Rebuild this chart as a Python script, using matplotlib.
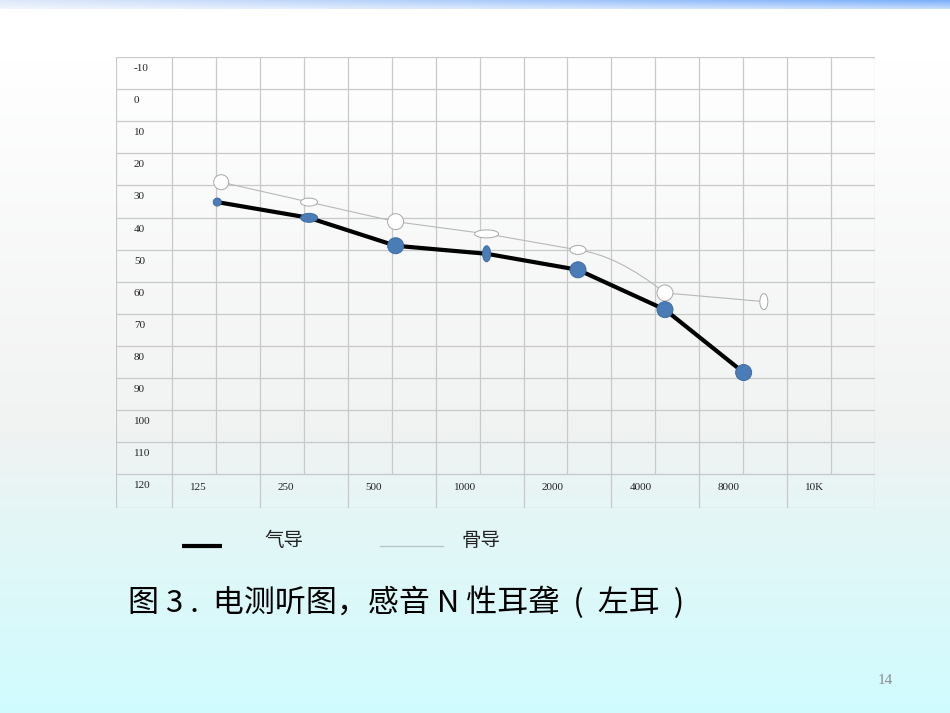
import numpy as np
import matplotlib
matplotlib.use("Agg")
import matplotlib.pyplot as plt
from matplotlib.patches import Ellipse, PathPatch
from matplotlib.path import Path
from matplotlib.lines import Line2D

# ---------------- data ----------------
row_labels = ["-10", "0", "10", "20", "30", "40", "50", "60", "70", "80",
              "90", "100", "110", "120"]
row_values = [-10, 0, 10, 20, 30, 40, 50, 60, 70, 80, 90, 100, 110, 120]
freq_labels = ["125", "250", "500", "1000", "2000", "4000", "8000", "10K"]

# positions on the grid (column units) and hearing levels (dB)
air_pos = [1.03, 3.12, 5.09, 7.16, 9.24, 11.22, 13.01]
air_db = [35.2, 40.1, 48.8, 51.3, 56.3, 68.7, 88.3]
bone_pos = [1.12, 3.12, 5.09, 7.16, 9.24, 11.22, 13.47]
bone_db = [29.0, 35.2, 41.3, 45.1, 50.1, 63.5, 66.2]

legend_labels = ["气导", "骨导"]
title_text = "图 3 .  电测听图，感音 N 性耳聋  (  左耳  )"
page_number = "14"

# marker sizes in pixels (style)
air_marker_px = [(8, 8), (17, 9), (16, 16), (8, 16), (16, 16), (16, 16), (16, 16)]
bone_marker_px = [(15, 15), (17, 8), (16, 16), (24, 8), (16, 9), (16, 16), (8, 16)]
curved_bone_segment = 4   # segment 2000 -> 4000 drawn as a curve (style)

# ---------------- figure ----------------
W, H = 950, 713
fig = plt.figure(figsize=(W / 100, H / 100), dpi=100)

# background
bg = fig.add_axes([0, 0, 1, 1])
bg.set_xlim(0, W)
bg.set_ylim(H, 0)
bg.axis("off")
ys = np.arange(H)
stops_y = [0, 60, 430, 520, 713]
stops_c = np.array([[255, 255, 255], [255, 255, 255], [241, 242, 242],
                    [228, 246, 246], [208, 252, 255]]) / 255.0
grad = np.stack([np.interp(ys, stops_y, stops_c[:, k]) for k in range(3)], axis=-1)
bg.imshow(grad[:, None, :], extent=[0, W, H, 0], aspect="auto", zorder=0)

# top blue band
bx = np.linspace(0, 1, 200)
band_rows = []
for r in range(9):
    t = r / 8.0
    left = np.array([222, 233, 250]) / 255
    right = np.array([125, 176, 250]) / 255
    row = left[None, :] * (1 - bx[:, None]) + right[None, :] * bx[:, None]
    row = row * (1 - 0.55 * t) + 0.55 * t
    band_rows.append(row)
band = np.array(band_rows)
bg.imshow(band, extent=[0, W, 9, 0], aspect="auto", zorder=1)

# ---------------- table / chart axes ----------------
L, R, T, B = 116, 875, 57, 508
col_w = (R - 172) / 16.0           # px per column
px_per_db = 32.1 / 10.0
x_left = -(172 - L) / col_w
y_top = -10
y_bot = y_top + (B - T) / px_per_db

ax = fig.add_axes([L / W, 1 - B / H, (R - L) / W, (B - T) / H])
ax.patch.set_alpha(0)
ax.set_xlim(x_left, 16)
ax.set_ylim(y_bot, y_top)
ax.axis("off")

gc = "#c9c9c9"
glw = 0.9
ax.hlines([y_top] + row_values[1:] + [y_bot], x_left, 16, colors=gc, lw=glw, zorder=1)
ax.vlines([x_left, 16], y_top, y_bot, colors=gc, lw=glw, zorder=1)
ax.vlines(np.arange(0, 16), y_top, 120, colors=gc, lw=glw, zorder=1)
ax.vlines(np.arange(0, 16, 2), 120, y_bot, colors=gc, lw=glw, zorder=1)

serif = ["Liberation Serif", "DejaVu Serif"]
pad = 18 / col_w
for lab, v in zip(row_labels, row_values):
    ax.text(x_left + pad, v + 3.6, lab, ha="left", va="center",
            fontsize=8, family=serif, color="#222222")
for i, lab in enumerate(freq_labels):
    ax.text(2 * i + pad, 124.1, lab, ha="left", va="center",
            fontsize=8, family=serif, color="#222222")

# bone conduction line (one segment gently curved) + markers
verts, codes = [(bone_pos[0], bone_db[0])], [Path.MOVETO]
for i in range(1, len(bone_pos)):
    x0, y0 = bone_pos[i - 1], bone_db[i - 1]
    x1, y1 = bone_pos[i], bone_db[i]
    if i - 1 == curved_bone_segment:
        cx = x0 + 0.45 * (x1 - x0)
        cy = y0 + 0.12 * (y1 - y0)
        verts += [(cx, cy), (x1, y1)]
        codes += [Path.CURVE3, Path.CURVE3]
    else:
        verts.append((x1, y1))
        codes.append(Path.LINETO)
ax.add_patch(PathPatch(Path(verts, codes), facecolor="none", edgecolor="#b8b8b8",
                       lw=0.8, zorder=2))
for xp, yv, (w, h) in zip(bone_pos, bone_db, bone_marker_px):
    ax.add_patch(Ellipse((xp, yv), w / col_w, h / px_per_db, facecolor="white",
                         edgecolor="#a8a8a8", lw=0.7, zorder=3))

# air conduction line + markers
ax.plot(air_pos, air_db, color="black", lw=3.0, zorder=4, solid_capstyle="butt")
for xp, yv, (w, h) in zip(air_pos, air_db, air_marker_px):
    ax.add_patch(Ellipse((xp, yv), w / col_w, h / px_per_db, facecolor="#4a7db8",
                         edgecolor="#3e6b9f", lw=0.7, zorder=5))

# ---------------- legend ----------------
cjk = ["Noto Sans CJK SC", "DejaVu Sans"]
bg.add_line(Line2D([182, 222], [546, 546], color="black", lw=3.0, zorder=5,
                   solid_capstyle="butt"))
bg.text(264, 540, legend_labels[0], ha="left", va="center", fontsize=14,
        family=cjk, fontweight="light", color="#222222", zorder=5)
bg.add_line(Line2D([380, 443], [546, 546], color="#b4c2c6", lw=0.9, zorder=5))
bg.text(461, 540, legend_labels[1], ha="left", va="center", fontsize=14,
        family=cjk, fontweight="light", color="#222222", zorder=5)

# ---------------- title and page number ----------------
bg.text(128, 603, title_text, ha="left", va="center", fontsize=22.3,
        family=cjk, color="black", zorder=5)
bg.text(885, 681, page_number, ha="center", va="center", fontsize=11,
        family=serif, color="#8c8c8c", zorder=5)

fig.savefig("out.png", dpi=100)
